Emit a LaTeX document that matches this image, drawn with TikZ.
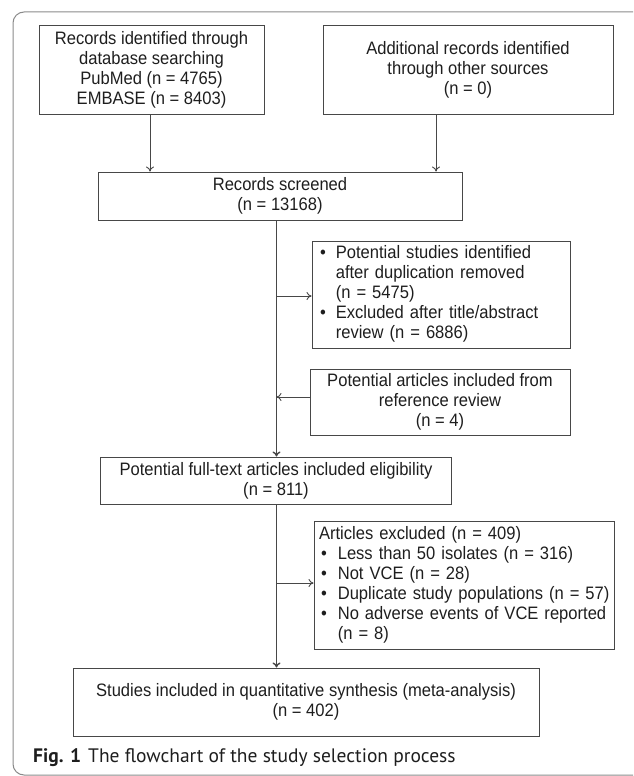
\documentclass[tikz,border=0pt]{standalone}
\usepackage{fontspec}
\setmainfont{Liberation Sans}[FakeStretch=0.92]
\newfontfamily\capfont{PT Sans}
\usetikzlibrary{arrows.meta,positioning}
\definecolor{boxline}{HTML}{474747}
\definecolor{frameline}{HTML}{8A8A8A}
\definecolor{txt}{HTML}{1E1E1E}
\tikzset{
  box/.style={draw=boxline, line width=1pt, text=txt, inner sep=0pt, align=center,
    font=\fontsize{18}{20}\selectfont},
  listbox/.style={box, align=left, inner xsep=8pt},
  arr/.style={-{To[length=5pt,width=8pt]}, draw=boxline, line width=0.9pt},
}

\begin{document}
\begin{tikzpicture}[x=1pt, y=-1pt]
    \useasboundingbox (0,0) rectangle (633,776);
    \clip (0,0) rectangle (633,776);
    \draw[frameline, line width=1pt, rounded corners=11pt] (13,12) rectangle (680,775);

    \node[box, minimum width=225pt, minimum height=88pt] (ident) at (151.5,70)
        {Records identified through\\database searching\\PubMed (n = 4765)\\EMBASE (n = 8403)};
    \node[box, minimum width=290pt, minimum height=88pt] (other) at (468,70)
        {Additional records identified\\through other sources\\(n = 0)};
    \node[box, minimum width=364pt, minimum height=48pt] (screen) at (280,196)
        {Records screened\\(n = 13168)};
    \node[listbox, text width=242pt, minimum height=107pt] (dupl) at (441,294.5)
        {\begin{tabular}{@{}l@{\hspace{10pt}}l@{}}
         \textbullet & Potential studies identified\\
          & after duplication removed\\
          & (n = 5475)\\
         \textbullet & Excluded after title/abstract\\
          & review (n = 6886)
         \end{tabular}};
    \node[box, minimum width=260pt, minimum height=66pt] (refrev) at (440,402)
        {Potential articles included from\\reference review\\(n = 4)};
    \node[box, minimum width=351.5pt, minimum height=47pt] (full) at (276,480.5)
        {Potential full-text articles included eligibility\\(n = 811)};
    \node[listbox, inner xsep=5pt, text width=290pt, minimum height=128pt] (excl) at (464,585)
        {\begin{tabular}{@{}l@{\hspace{11pt}}l@{}}
         \multicolumn{2}{@{}l@{}}{Articles excluded (n = 409)}\\
         \hspace{2pt}\textbullet & Less than 50 isolates (n = 316)\\
         \hspace{2pt}\textbullet & Not VCE (n = 28)\\
         \hspace{2pt}\textbullet & Duplicate study populations (n = 57)\\
         \hspace{2pt}\textbullet & No adverse events of VCE reported\\
          & (n = 8)
         \end{tabular}};
    \node[box, minimum width=466pt, minimum height=68pt] (incl) at (306,702)
        {Studies included in quantitative synthesis (meta-analysis)\\(n = 402)};

    \node[anchor=base west, inner sep=0pt, text=txt, font=\capfont\fontsize{19.5}{23}\selectfont] (cap) at (33,762)
        {\textbf{Fig. 1}\hspace{7pt}The flowchart of the study selection process};

    % trunk
    \coordinate (t) at (276.5,0);
    \draw[arr] ([xshift=-1.5pt]ident.south) -- ([xshift=-1.5pt]ident.south |- screen.north);
    \draw[arr] ([xshift=-32pt]other.south) -- ([xshift=-32pt]other.south |- screen.north);
    \draw[arr, line width=1.4pt] (screen.south -| t) -- (full.north -| t);
    \draw[arr] ([yshift=-1.5pt]dupl.west -| t) -- ([yshift=-1.5pt]dupl.west);
    \draw[arr] ([yshift=5pt]refrev.west) -- ([yshift=5pt]refrev.west -| t);
    \draw[arr, line width=1.4pt] (full.south -| t) -- (incl.north -| t);
    \draw[arr] ([yshift=2pt]excl.west -| t) -- ([yshift=2pt]excl.west);
\end{tikzpicture}
\end{document}
